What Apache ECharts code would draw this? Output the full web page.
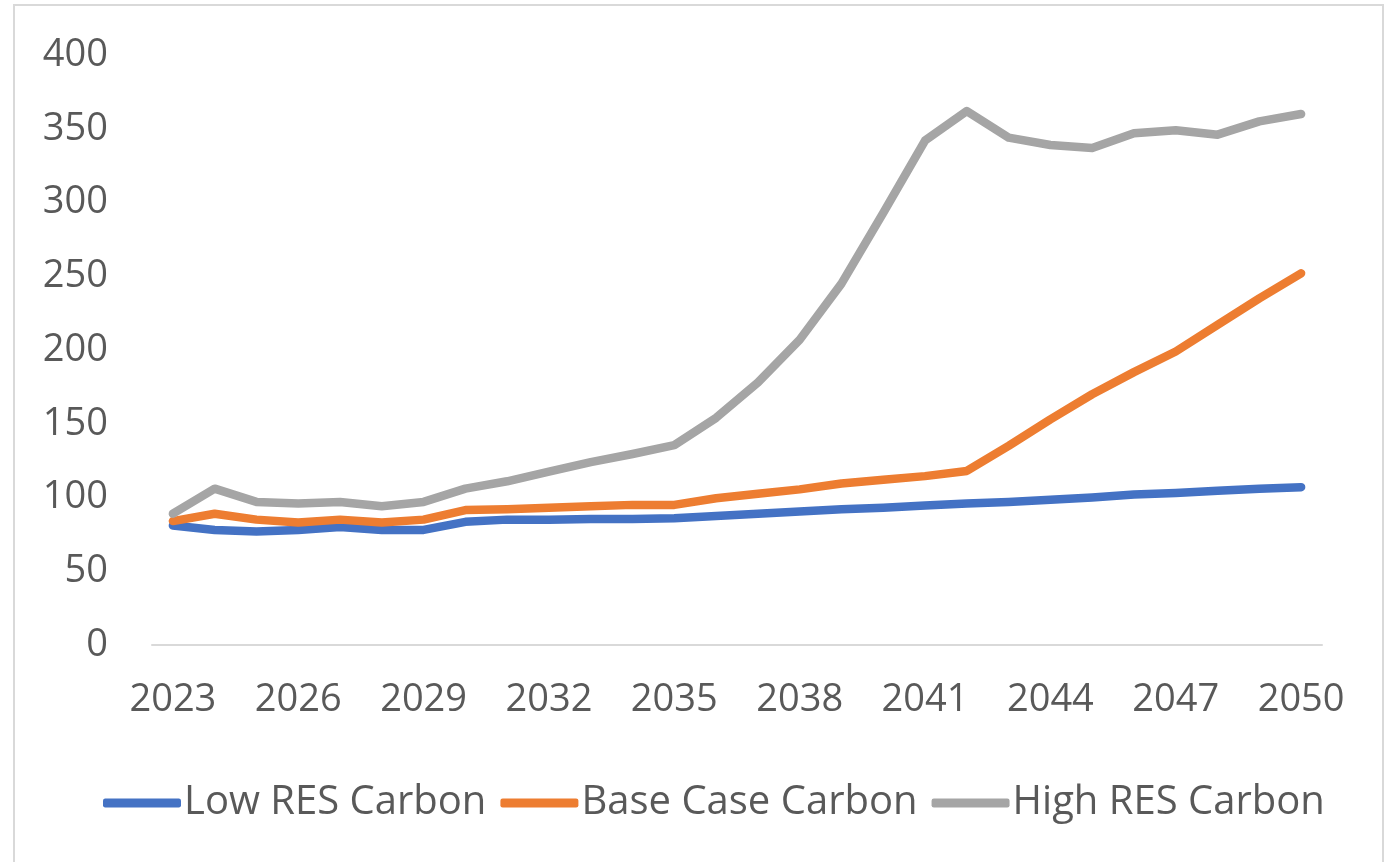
<!DOCTYPE html>
<html>
<head>
<meta charset="utf-8">
<script src="https://cdn.jsdelivr.net/npm/echarts@6/dist/echarts.min.js"></script>
<style>
html,body{margin:0;padding:0;background:#fff;}
#chart{width:1389px;height:862px;}
</style>
</head>
<body>
<div id="chart"></div>
<script>
var years = ['2023','2024','2025','2026','2027','2028','2029','2030','2031','2032','2033','2034','2035','2036','2037','2038','2039','2040','2041','2042','2043','2044','2045','2046','2047','2048','2049','2050'];
var lowRES = [81,78,77,78,80,78,78,83.5,85,85,85.5,85.5,86,87.5,89,90.5,92,93,94.5,96,97,98.5,100,102,103,104.5,106,107];
var baseCase = [84,89,85,83,85,83,85,91.5,92,93,94,95,95,99.5,102.5,105.5,109.5,112,114.5,118,135,153,170,185,199,217,235,252];
var highRES = [89,106,97,96,97,94,97,106,111,117.5,124,129.5,135.5,154,178,207,245,293,342,362,344,339,337,347,349,346,355,360];
var seriesNames = ['Low RES Carbon','Base Case Carbon','High RES Carbon'];
var colors = ['#4472C4','#ED7D31','#A5A5A5'];

var chart = echarts.init(document.getElementById('chart'));
var font = 'Open Sans';
function mk(name, data, color){
  return {
    name: name, type: 'line', data: data, showSymbol: false, symbol: 'none',
    lineStyle: {color: color, width: 8.5, cap: 'round', join: 'round'},
    itemStyle: {color: color},
    animation: false
  };
}
chart.setOption({
  animation: false,
  graphic: [{
    type: 'rect', shape: {x: 14, y: 5, width: 1369, height: 880},
    style: {fill: 'none', stroke: '#D9D9D9', lineWidth: 2}, silent: true, z: -1
  }],
  grid: {left: 152, right: 67, top: 55, bottom: 217, containLabel: false},
  legend: {
    data: seriesNames.map(function(n, i){ return {name: n, icon: 'roundRect', itemStyle: {color: colors[i]}}; }),
    left: 98, top: 778,
    itemWidth: 78, itemHeight: 9, itemGap: 14,
    textStyle: {fontFamily: font, fontSize: 40, color: '#595959', padding: [0,0,0,-2]}
  },
  xAxis: {
    type: 'category', data: years, boundaryGap: true,
    axisLine: {show: true, lineStyle: {color: '#D9D9D9', width: 2}},
    axisTick: {show: false},
    axisLabel: {interval: 2, fontFamily: font, fontSize: 38, color: '#595959', margin: 36}
  },
  yAxis: {
    type: 'value', min: 0, max: 400, interval: 50,
    axisLine: {show: false}, axisTick: {show: false},
    splitLine: {show: false},
    axisLabel: {fontFamily: font, fontSize: 38, color: '#595959', margin: 44}
  },
  series: [mk(seriesNames[0], lowRES, colors[0]), mk(seriesNames[1], baseCase, colors[1]), mk(seriesNames[2], highRES, colors[2])]
});
</script>
</body>
</html>
